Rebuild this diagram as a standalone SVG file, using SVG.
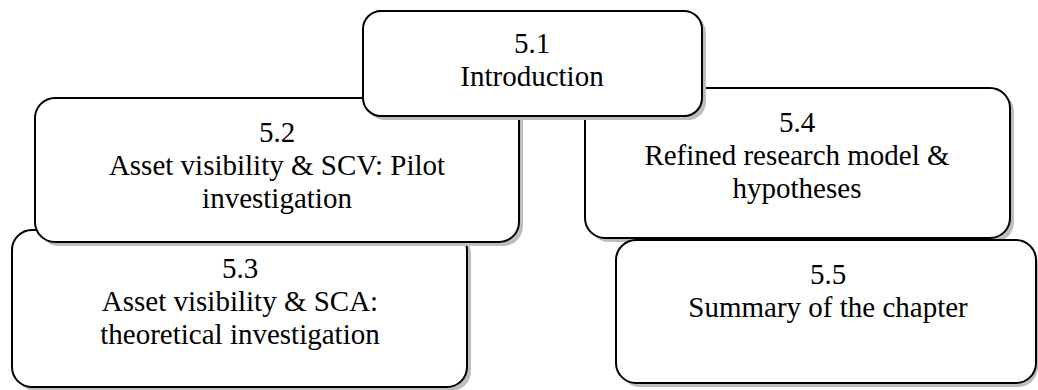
<svg xmlns="http://www.w3.org/2000/svg" width="1038" height="390" viewBox="0 0 1038 390">
  <style>
    .shadow { fill: #bdbdbd; stroke: none; }
    .box { fill: #ffffff; stroke: #000000; stroke-width: 2; }
    .label { font-size: 29px; fill: #000000; text-anchor: middle; }
  </style>
  <rect width="1038" height="390" fill="#ffffff"/>

  <g font-family="'Liberation Serif', 'Times New Roman', 'DejaVu Serif', serif">
    <!-- 5.3 sits lowest in the stack -->
    <g id="node-5-3">
      <rect class="shadow" x="16" y="234" width="455" height="157" rx="20" ry="20"/>
      <rect class="box" x="12" y="230" width="455" height="157" rx="20" ry="20"/>
      <text class="label" x="240" y="278">5.3</text>
      <text class="label" x="240" y="311">Asset visibility &amp; SCA:</text>
      <text class="label" x="240" y="344">theoretical investigation</text>
    </g>

    <g id="node-5-2">
      <rect class="shadow" x="39" y="102" width="484" height="144" rx="20" ry="20"/>
      <rect class="box" x="35" y="98" width="484" height="144" rx="20" ry="20"/>
      <text class="label" x="277" y="142">5.2</text>
      <text class="label" x="277" y="175">Asset visibility &amp; SCV: Pilot</text>
      <text class="label" x="277" y="208">investigation</text>
    </g>

    <g id="node-5-4">
      <rect class="shadow" x="589" y="92" width="425" height="150" rx="20" ry="20"/>
      <rect class="box" x="585" y="88" width="425" height="150" rx="20" ry="20"/>
      <text class="label" x="797" y="132">5.4</text>
      <text class="label" x="797" y="165">Refined research model &amp;</text>
      <text class="label" x="797" y="198">hypotheses</text>
    </g>

    <g id="node-5-5">
      <rect class="shadow" x="620" y="244" width="418" height="143" rx="20" ry="20"/>
      <rect class="box" x="616" y="240" width="420" height="143" rx="20" ry="20"/>
      <text class="label" x="828" y="284">5.5</text>
      <text class="label" x="828" y="317">Summary of the chapter</text>
    </g>

    <!-- 5.1 is drawn last so it covers the two boxes beneath it -->
    <g id="node-5-1">
      <rect class="shadow" x="367" y="15" width="339" height="105" rx="18" ry="18"/>
      <rect class="box" x="363" y="11" width="339" height="105" rx="18" ry="18"/>
      <text class="label" x="532" y="53">5.1</text>
      <text class="label" x="532" y="86">Introduction</text>
    </g>
  </g>
</svg>
